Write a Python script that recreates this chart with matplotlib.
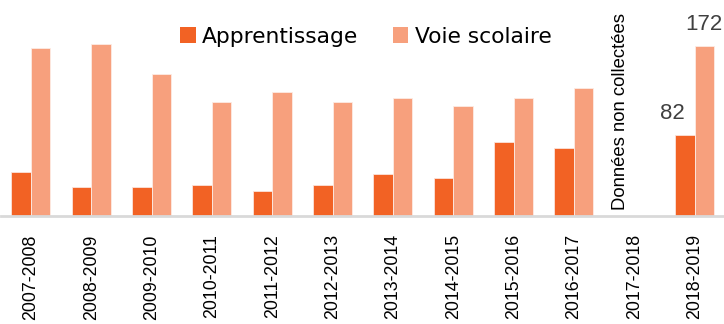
import numpy as np
import matplotlib.pyplot as plt
from matplotlib.patches import Patch

# school years and headcounts
annees = ["2007-2008", "2008-2009", "2009-2010", "2010-2011", "2011-2012", "2012-2013",
          "2013-2014", "2014-2015", "2015-2016", "2016-2017", "2017-2018", "2018-2019"]
apprentissage = [45, 29, 29, 31, 25, 31, 43, 39, 75, 69, np.nan, 82]
voie_scolaire = [170, 174, 144, 115, 125, 115, 119, 111, 119, 130, np.nan, 172]

c_app = "#F26224"
c_voie = "#F7A07D"

fig = plt.figure(figsize=(7.24, 3.24), dpi=100)
ax = fig.add_axes([0.001, 0.333, 1.0, 0.667])

x = np.arange(len(annees))
w = 0.323
ax.bar(x - w/2, apprentissage, w, color=c_app, edgecolor="#FBE3DA", linewidth=0.6)
ax.bar(x + w/2, voie_scolaire, w, color=c_voie, edgecolor="#FDEBE4", linewidth=0.6)

ax.set_xlim(-0.5, 11.5)
ax.set_ylim(0, 218.5)

for s in ["top", "right", "left"]:
    ax.spines[s].set_visible(False)
ax.spines["bottom"].set_color("#D9D9D9")
ax.spines["bottom"].set_linewidth(2)
ax.set_yticks([])
ax.set_xticks(x)
ax.set_xticklabels(annees, rotation=90, fontsize=12.8, family="Liberation Sans", color="#000000")
ax.tick_params(axis="x", length=0, pad=13)

# values shown for the last year
ax.annotate(f"{apprentissage[-1]:g}", (x[-1] - w/2, apprentissage[-1]), xytext=(-9, 8),
            textcoords="offset points", ha="center", va="bottom", fontsize=16,
            family="Liberation Sans", color="#404040")
ax.annotate(f"{voie_scolaire[-1]:g}", (x[-1] + w/2, voie_scolaire[-1]), xytext=(0, 8),
            textcoords="offset points", ha="center", va="bottom", fontsize=16,
            family="Liberation Sans", color="#404040")

# missing year
ax.text(x[10] - 0.22, 6, "Données non collectées", rotation=90, ha="center", va="bottom",
        fontsize=13.3, family="Liberation Sans", color="#000000")

handles = [Patch(facecolor=c_app, label="Apprentissage"),
           Patch(facecolor=c_voie, label="Voie scolaire")]
fig.legend(handles=handles, loc="center left", bbox_to_anchor=(0.249, 0.887), ncol=2,
           frameon=False, prop={"family": "DejaVu Sans", "size": 15.7},
           handlelength=0.7, handleheight=0.7, handletextpad=0.3, columnspacing=1.6,
           borderaxespad=0, borderpad=0)

fig.savefig("out.png", dpi=100)
